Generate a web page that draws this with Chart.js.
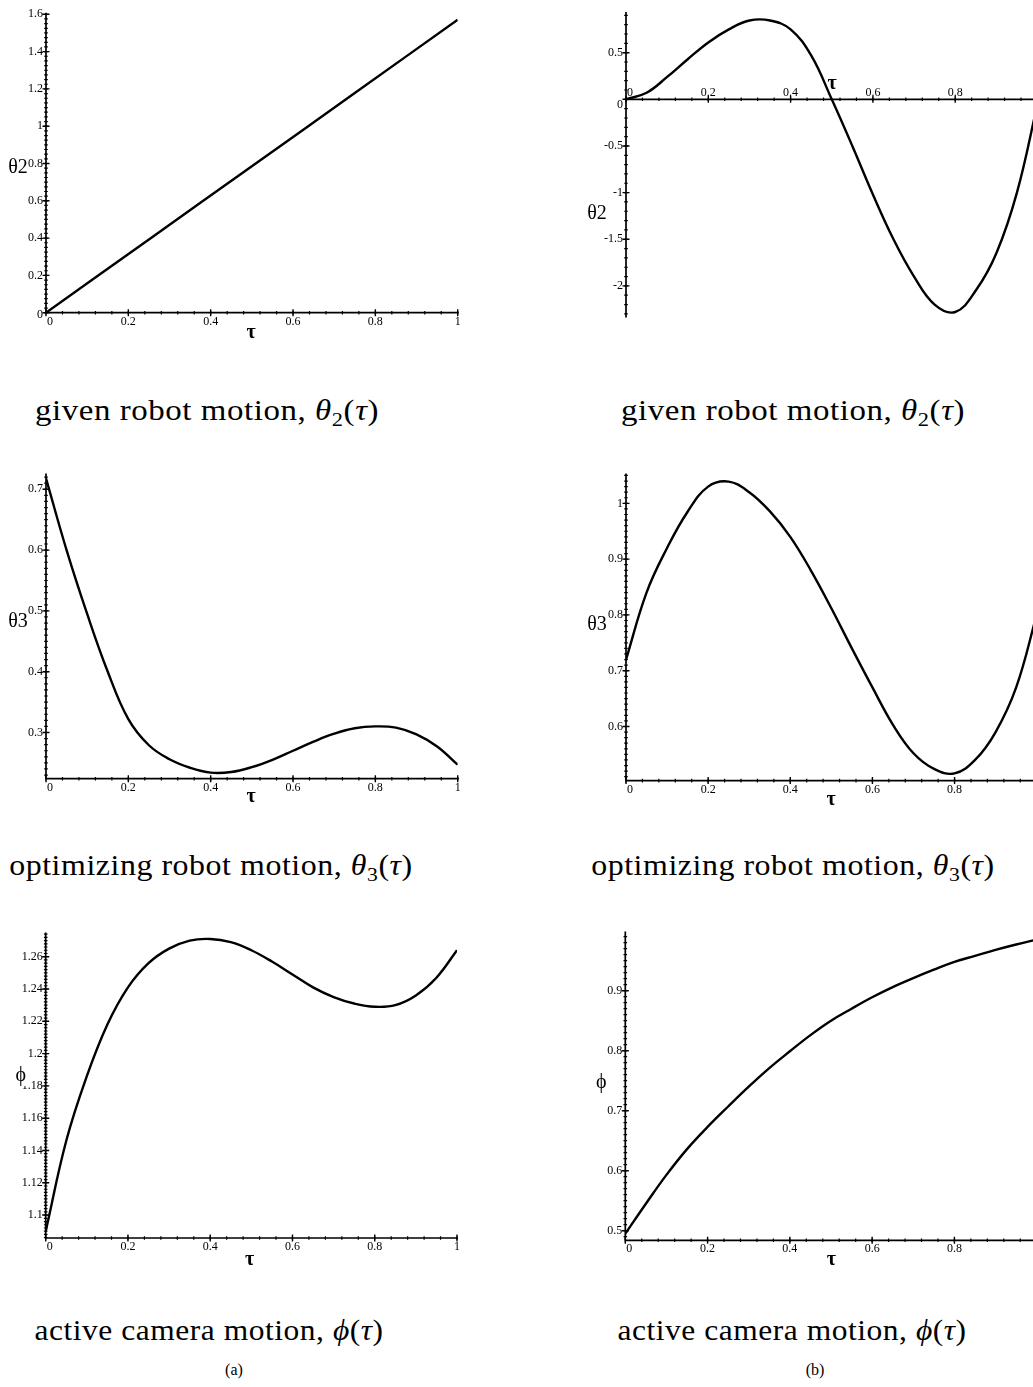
<!DOCTYPE html>
<html>
<head>
<meta charset="utf-8">
<script src="https://cdn.jsdelivr.net/npm/chart.js@4.4.0/dist/chart.umd.min.js"></script>
<style>
  html, body { margin: 0; padding: 0; background: #fff; overflow: hidden; }
  #page { position: relative; width: 1033px; height: 1387px; overflow: hidden; background: #fff; }
  #page canvas { position: absolute; }
  .caption {
    position: absolute; width: 560px; text-align: center; white-space: nowrap;
    font-family: 'Liberation Serif', 'DejaVu Serif', serif; font-size: 29px; line-height: 32px;
    letter-spacing: 0.5px; color: #000; transform-origin: 50% 50%;
  }
  .caption sub { font-size: 0.68em; vertical-align: -0.28em; line-height: 0; }
  .tag {
    position: absolute; width: 60px; text-align: center;
    font-family: 'Liberation Serif', serif; font-size: 16px; line-height: 20px; color: #000;
  }
</style>
</head>
<body>
<div id="page">
  <canvas id="c1"></canvas>
  <canvas id="c2"></canvas>
  <canvas id="c3"></canvas>
  <canvas id="c4"></canvas>
  <canvas id="c5"></canvas>
  <canvas id="c6"></canvas>

  <div class="caption" style="left:-73px; top:394px; transform:scaleX(1.135);">given robot motion, <i>θ</i><sub>2</sub>(<i>τ</i>)</div>
  <div class="caption" style="left:513px; top:394px; transform:scaleX(1.135);">given robot motion, <i>θ</i><sub>2</sub>(<i>τ</i>)</div>
  <div class="caption" style="left:-69px; top:849px; transform:scaleX(1.10);">optimizing robot motion, <i>θ</i><sub>3</sub>(<i>τ</i>)</div>
  <div class="caption" style="left:513px; top:849px; transform:scaleX(1.10);">optimizing robot motion, <i>θ</i><sub>3</sub>(<i>τ</i>)</div>
  <div class="caption" style="left:-71px; top:1314px; transform:scaleX(1.085);">active camera motion, <i>ϕ</i>(<i>τ</i>)</div>
  <div class="caption" style="left:512px; top:1314px; transform:scaleX(1.085);">active camera motion, <i>ϕ</i>(<i>τ</i>)</div>
  <div class="tag" style="left:204px; top:1360px;">(a)</div>
  <div class="tag" style="left:785px; top:1360px;">(b)</div>
</div>

<script>
// ---- data ----
const tickX = [0, 0.2, 0.4, 0.6, 0.8, 1];
const tickXLabels = ['0', '0.2', '0.4', '0.6', '0.8', '1'];

// sample points in tau shared by the curved panels
const tau = [0, 0.05, 0.1, 0.15, 0.2, 0.25, 0.3, 0.35, 0.4, 0.45, 0.5, 0.55, 0.6, 0.65, 0.7, 0.75, 0.8, 0.85, 0.9, 0.95, 1];

// (a) given robot motion
const tauA1 = [0, 0.25, 0.5, 0.75, 1];
const theta2A = [0, 0.393, 0.785, 1.178, 1.571];
const tickYA1 = [0, 0.2, 0.4, 0.6, 0.8, 1, 1.2, 1.4, 1.6];
const tickYA1Labels = ['0', '0.2', '0.4', '0.6', '0.8', '1', '1.2', '1.4', '1.6'];

// (b) given robot motion
const theta2B = [0, 0.07, 0.24, 0.43, 0.61, 0.75, 0.845, 0.845, 0.75, 0.47, 0, -0.5, -1.02, -1.5, -1.9, -2.2, -2.28, -2.05, -1.65, -1.0, -0.05];
const tickYB1 = [-2, -1.5, -1, -0.5, 0, 0.5];
const tickYB1Labels = ['-2', '-1.5', '-1', '-0.5', '0', '0.5'];

// (a) optimizing robot motion
const theta3A = [0.718, 0.6, 0.495, 0.4, 0.322, 0.279, 0.256, 0.242, 0.234, 0.235, 0.243, 0.255, 0.27, 0.285, 0.298, 0.307, 0.31, 0.308, 0.297, 0.277, 0.247];
const tickYA2 = [0.3, 0.4, 0.5, 0.6, 0.7];
const tickYA2Labels = ['0.3', '0.4', '0.5', '0.6', '0.7'];

// (b) optimizing robot motion
const theta3B = [0.72, 0.84, 0.92, 0.985, 1.03, 1.039, 1.02, 0.986, 0.94, 0.88, 0.812, 0.74, 0.67, 0.603, 0.552, 0.524, 0.516, 0.54, 0.59, 0.67, 0.8];
const tickYB2 = [0.6, 0.7, 0.8, 0.9, 1];
const tickYB2Labels = ['0.6', '0.7', '0.8', '0.9', '1'];

// (a) active camera motion
const phiA = [1.09, 1.146, 1.186, 1.218, 1.241, 1.256, 1.265, 1.27, 1.271, 1.269, 1.264, 1.257, 1.249, 1.241, 1.235, 1.231, 1.229, 1.23, 1.236, 1.247, 1.264];
const tickYA3 = [1.1, 1.12, 1.14, 1.16, 1.18, 1.2, 1.22, 1.24, 1.26];
const tickYA3Labels = ['1.1', '1.12', '1.14', '1.16', '1.18', '1.2', '1.22', '1.24', '1.26'];

// (b) active camera motion
const phiB = [0.495, 0.545, 0.593, 0.636, 0.673, 0.707, 0.74, 0.771, 0.799, 0.826, 0.85, 0.87, 0.889, 0.906, 0.921, 0.935, 0.948, 0.958, 0.968, 0.977, 0.985];
const tickYB3 = [0.5, 0.6, 0.7, 0.8, 0.9];
const tickYB3Labels = ['0.5', '0.6', '0.7', '0.8', '0.9'];

// ---- Maple-style axes: lines crossing at the origin, dotted minor ticks ----
const TICK_FONT = '12px "Liberation Serif", serif';
const mapleAxes = {
  id: 'mapleAxes',
  beforeDatasetsDraw(chart, args, o) {
    const { ctx } = chart;
    const xs = chart.scales.x, ys = chart.scales.y;
    const ax = xs.getPixelForValue(0);
    const ay = ys.getPixelForValue(o.xAxisAt);
    ctx.save();
    ctx.strokeStyle = '#000';
    ctx.lineWidth = 1.7;
    ctx.beginPath();
    ctx.moveTo(ax, ys.getPixelForValue(ys.max) - 1.5);
    ctx.lineTo(ax, ys.getPixelForValue(ys.min));
    ctx.moveTo(ax, ay);
    ctx.lineTo(xs.getPixelForValue(xs.max) + 1, ay);
    ctx.stroke();

    // minor ticks
    ctx.lineWidth = 1.2;
    ctx.beginPath();
    for (let k = Math.ceil(xs.min / o.xMinor); k * o.xMinor <= xs.max + 1e-9; k++) {
      const px = xs.getPixelForValue(k * o.xMinor);
      ctx.moveTo(px, ay - 1.8); ctx.lineTo(px, ay + 1.8);
    }
    for (let k = Math.ceil(ys.min / o.yMinor); k * o.yMinor <= ys.max + 1e-9; k++) {
      const py = ys.getPixelForValue(k * o.yMinor);
      ctx.moveTo(ax - 1.8, py); ctx.lineTo(ax + 1.8, py);
    }
    ctx.stroke();

    // major ticks
    ctx.lineWidth = 1.4;
    ctx.beginPath();
    o.xTicks.forEach(v => {
      const px = xs.getPixelForValue(v);
      ctx.moveTo(px, ay - 3.5); ctx.lineTo(px, ay + 3.5);
    });
    o.yTicks.forEach(v => {
      const py = ys.getPixelForValue(v);
      ctx.moveTo(ax - 3.5, py); ctx.lineTo(ax + 3.5, py);
    });
    ctx.stroke();
    ctx.restore();
  },
  afterDraw(chart, args, o) {
    const { ctx } = chart;
    const xs = chart.scales.x, ys = chart.scales.y;
    const ax = xs.getPixelForValue(0);
    const ay = ys.getPixelForValue(o.xAxisAt);
    ctx.save();
    ctx.fillStyle = '#000';
    ctx.font = TICK_FONT;
    ctx.textBaseline = 'middle';

    o.xTicks.forEach((v, i) => {
      const px = xs.getPixelForValue(v);
      const py = o.xLabelsAbove ? ay - 6 : ay + 9;
      if (v === 0) { ctx.textAlign = 'left'; ctx.fillText(o.xLabels[i], px + 1, py); }
      else { ctx.textAlign = 'center'; ctx.fillText(o.xLabels[i], px, py); }
    });
    ctx.textAlign = 'right';
    o.yTicks.forEach((v, i) => {
      let py = ys.getPixelForValue(v);
      if (v === o.xAxisAt) py += o.xLabelsAbove ? 6 : 2;
      ctx.fillText(o.yLabels[i], ax - 3, py);
    });

    // axis titles, positioned relative to the chart area
    const ca = chart.chartArea;
    ctx.textAlign = 'center';
    ctx.font = '20px "Liberation Serif", serif';
    const yt = o.yTitle;
    const yx = ca.left + yt.dx, yy = ca.top + yt.dy;
    if (yt.cover) {
      const w = ctx.measureText(yt.text).width;
      ctx.fillStyle = '#fff';
      ctx.fillRect(yx - w / 2 - 1, yy - 10, w + 2, 20);
      ctx.fillStyle = '#000';
    }
    ctx.fillText(yt.text, yx, yy);
    ctx.font = 'bold 20px "Liberation Serif", serif';
    ctx.fillText('τ', ca.left + o.xTitle.dx, ca.top + o.xTitle.dy);
    ctx.restore();
  }
};

// ---- panels: canvas box and plotting area in page pixels ----
function makePanel(id, box, area, yMin, yMax, xs, values, axes) {
  const cv = document.getElementById(id);
  cv.style.left = box.x + 'px';
  cv.style.top = box.y + 'px';
  cv.width = box.w; cv.height = box.h;
  cv.style.width = box.w + 'px'; cv.style.height = box.h + 'px';

  new Chart(cv, {
    type: 'scatter',
    data: {
      datasets: [{
        data: xs.map((t, i) => ({ x: t, y: values[i] })),
        showLine: true,
        borderColor: '#000',
        borderWidth: 2.4,
        pointRadius: 0,
        tension: 0.4,
        fill: false
      }]
    },
    options: {
      responsive: false,
      animation: false,
      events: [],
      layout: {
        padding: {
          left: area.l - box.x,
          right: box.x + box.w - area.r,
          top: area.t - box.y,
          bottom: box.y + box.h - area.b
        }
      },
      plugins: {
        legend: { display: false },
        tooltip: { enabled: false },
        mapleAxes: axes
      },
      scales: {
        x: { type: 'linear', min: 0, max: 1, display: false },
        y: { type: 'linear', min: yMin, max: yMax, display: false }
      }
    },
    plugins: [mapleAxes]
  });
}

const leftCol = 0, rightCol = 560;

makePanel('c1', { x: leftCol, y: 0, w: 480, h: 345 }, { l: 46, r: 457.7, t: 14.3, b: 312.7 },
  0, 1.6, tauA1, theta2A, {
    xAxisAt: 0, xTicks: tickX, xLabels: tickXLabels, xMinor: 0.04,
    yTicks: tickYA1, yLabels: tickYA1Labels, yMinor: 0.025,
    yTitle: { text: 'θ2', dx: -28, dy: 153 }, xTitle: { dx: 205, dy: 319 }
  });

makePanel('c2', { x: rightCol, y: 0, w: 500, h: 345 }, { l: 626, r: 1037.5, t: 13.5, b: 317.6 },
  -2.34, 0.92, tau, theta2B, {
    xAxisAt: 0, xLabelsAbove: true, xTicks: tickX, xLabels: tickXLabels, xMinor: 0.04,
    yTicks: tickYB1, yLabels: tickYB1Labels, yMinor: 0.1,
    yTitle: { text: 'θ2', dx: -29, dy: 200 }, xTitle: { dx: 206, dy: 70 }
  });

makePanel('c3', { x: leftCol, y: 460, w: 480, h: 345 }, { l: 46, r: 457.7, t: 475, b: 778.7 },
  0.224, 0.7235, tau, theta3A, {
    xAxisAt: 0.224, xTicks: tickX, xLabels: tickXLabels, xMinor: 0.04,
    yTicks: tickYA2, yLabels: tickYA2Labels, yMinor: 0.01,
    yTitle: { text: 'θ3', dx: -28, dy: 147 }, xTitle: { dx: 205, dy: 322 }
  });

makePanel('c4', { x: rightCol, y: 460, w: 500, h: 345 }, { l: 626, r: 1036.7, t: 474.9, b: 780.6 },
  0.503, 1.051, tau, theta3B, {
    xAxisAt: 0.503, xTicks: tickX, xLabels: tickXLabels, xMinor: 0.04,
    yTicks: tickYB2, yLabels: tickYB2Labels, yMinor: 0.01,
    yTitle: { text: 'θ3', dx: -29, dy: 150 }, xTitle: { dx: 205, dy: 325 }
  });

makePanel('c5', { x: leftCol, y: 920, w: 480, h: 350 }, { l: 45.7, r: 457, t: 934.1, b: 1238 },
  1.0858, 1.274, tau, phiA, {
    xAxisAt: 1.0858, xTicks: tickX, xLabels: tickXLabels, xMinor: 0.04,
    yTicks: tickYA3, yLabels: tickYA3Labels, yMinor: 0.002,
    yTitle: { text: 'ϕ', dx: -25, dy: 142, cover: true }, xTitle: { dx: 204, dy: 326 }
  });

makePanel('c6', { x: rightCol, y: 920, w: 500, h: 350 }, { l: 625.3, r: 1036.7, t: 933.1, b: 1240.3 },
  0.484, 0.996, tau, phiB, {
    xAxisAt: 0.484, xTicks: tickX, xLabels: tickXLabels, xMinor: 0.04,
    yTicks: tickYB3, yLabels: tickYB3Labels, yMinor: 0.01,
    yTitle: { text: 'ϕ', dx: -24, dy: 150 }, xTitle: { dx: 206, dy: 327 }
  });
</script>
</body>
</html>
